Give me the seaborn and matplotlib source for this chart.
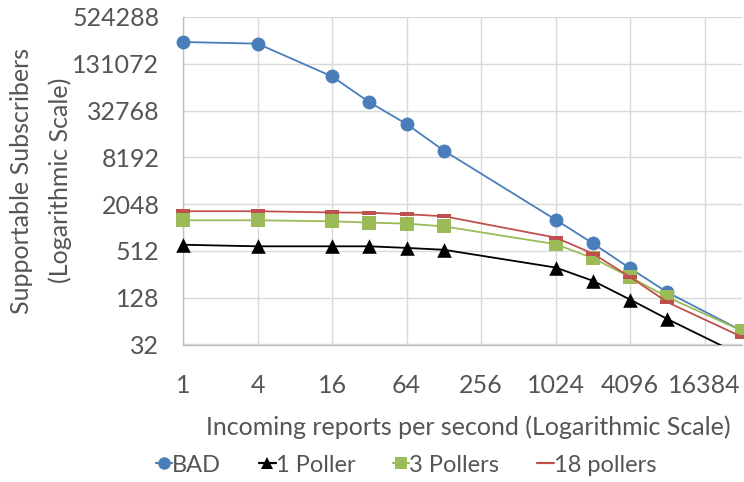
import matplotlib
matplotlib.use("Agg")
import matplotlib.pyplot as plt
import seaborn as sns
import pandas as pd
from matplotlib.lines import Line2D

# ---- data ----
rate = [1, 4, 16, 32, 64, 128, 1024, 2048, 4096, 8192, 32768]
bad = [250000, 238000, 90000, 42000, 22000, 10000, 1290, 640, 305, 150, 48]
one_poller = [615, 587, 587, 587, 560, 530, 313, 211, 121, 68, 23]
three_pollers = [1270, 1270, 1230, 1185, 1150, 1060, 625, 413, 236, 130, 48]
eighteen_pollers = [1660, 1660, 1600, 1590, 1520, 1430, 760, 473, 236, 112, 40]

series_names = ["BAD", "1 Poller", "3 Pollers", "18 pollers"]
x_ticks = [1, 4, 16, 64, 256, 1024, 4096, 16384]
y_ticks = [32, 128, 512, 2048, 8192, 32768, 131072, 524288]
x_label = "Incoming reports per second (Logarithmic Scale)"
y_label = "Supportable Subscribers\n(Logarithmic Scale)"

colors = {"BAD": "#4A7EBB", "1 Poller": "#000000",
          "3 Pollers": "#9BBB59", "18 pollers": "#C0504D"}
dash = [(-1, -0.22), (1, -0.22), (1, 0.22), (-1, 0.22)]
markers = {"BAD": "o", "1 Poller": "^", "3 Pollers": "s", "18 pollers": dash}
msizes = {"BAD": 100, "1 Poller": 110, "3 Pollers": 100, "18 pollers": 100}

values = {"BAD": bad, "1 Poller": one_poller,
          "3 Pollers": three_pollers, "18 pollers": eighteen_pollers}
df = pd.DataFrame({
    "rate": rate * len(series_names),
    "value": [v for n in series_names for v in values[n]],
    "series": [n for n in series_names for _ in rate],
})

sns.set_theme(style="white")
plt.rcParams["font.family"] = ["Lato", "DejaVu Sans"]

fig = plt.figure(figsize=(7.44, 4.82), dpi=100)
ax = fig.add_axes([183 / 744, 1 - 344.5 / 482, (742 - 183) / 744, (344.5 - 17) / 482])

ymin, ymax = y_ticks[0], y_ticks[-1]
xmin, xmax = x_ticks[0], x_ticks[-1] * 2

for i, name in enumerate(series_names):
    sub = df[df.series == name]
    sns.lineplot(data=sub, x="rate", y="value", color=colors[name],
                 estimator=None, sort=False, linewidth=1.3, ax=ax,
                 legend=False, zorder=3 + 2 * i)
    vis = sub[sub.value >= ymin]
    sns.scatterplot(data=vis, x="rate", y="value", color=colors[name],
                    marker=markers[name], s=msizes[name], linewidth=0,
                    ax=ax, legend=False, zorder=4 + 2 * i, clip_on=False)

ax.set_xscale("log", base=2)
ax.set_yscale("log", base=2)
ax.set_xlim(xmin, xmax)
ax.set_ylim(ymin, ymax)
ax.set_xticks(x_ticks)
ax.set_xticklabels([str(t) for t in x_ticks])
ax.set_yticks(y_ticks)
ax.set_yticklabels([str(t) for t in y_ticks])
ax.minorticks_off()

ax.grid(True, color="#D9D9D9", linewidth=1)
ax.set_axisbelow(True)
for s in ["top", "right"]:
    ax.spines[s].set_visible(False)
for s in ["left", "bottom"]:
    ax.spines[s].set_color("#BFBFBF")
    ax.spines[s].set_linewidth(1)

TXT = "#555555"
FS = 18
ax.tick_params(axis="both", length=0, labelsize=FS, labelcolor=TXT)
ax.tick_params(axis="x", pad=21)
ax.tick_params(axis="y", pad=17)

ax.set_xlabel(x_label, fontsize=FS, color=TXT, va="center")
ax.xaxis.set_label_coords((468 - 183) / 559, (344.5 - 427) / 327.5)
ax.set_ylabel(y_label, fontsize=FS, color=TXT, va="center",
              linespacing=1.75)
ax.yaxis.set_label_coords((41 - 183) / 559, 0.5)

handles = []
for name in series_names:
    handles.append(Line2D([0], [0], color=colors[name], linewidth=1.6,
                          marker=markers[name], markersize=9,
                          markeredgewidth=0, label=name))
fig.legend(handles=handles, loc="center", bbox_to_anchor=(406 / 744, 1 - 465 / 482),
           ncol=4, frameon=False, fontsize=17, handlelength=0.7,
           handletextpad=0.0, columnspacing=1.6, labelcolor=TXT)

fig.savefig("out.png", dpi=100)
